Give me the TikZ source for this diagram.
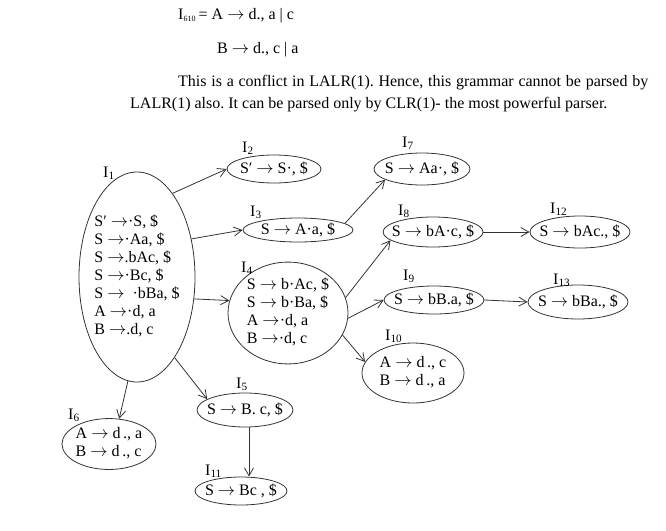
\documentclass[tikz,border=0pt]{standalone}
\usepackage{fontspec}
\setmainfont{Liberation Serif}
\usetikzlibrary{shapes.geometric,arrows.meta}
\frenchspacing
\newcommand\zw[1]{\makebox[0pt]{#1}}
\newcommand\lines[1]{\zw{\begin{tabular}{@{}l@{}}#1\end{tabular}}}
\newcommand\fs{\fontsize{16}{18}\selectfont}
\newcommand\II[1]{I\textsubscript{#1}}
\newcommand\ra{$\rightarrow$}
\begin{document}
\begin{tikzpicture}[x=1pt,y={(0pt,-1pt)},
  st/.style={draw=black!80, line width=0.8pt, ellipse, inner sep=0pt, font=\fs},
  lbl/.style={inner sep=0pt, anchor=base west, font=\fs},
  txt/.style={inner sep=0pt, anchor=base west, font=\fs},
  arr/.style={draw=black!80, line width=0.8pt, -{Straight Barb[length=8pt,width=9pt]}}]
\useasboundingbox (0,0) rectangle (666,530);
% header text
\node[txt] (h1) at (178,19) {I\textsubscript{\fontsize{8}{8}\selectfont 610}\,= A \ra{} d., a | c};
\node[txt] (h2) at (217,53) {B \ra{} d., c | a};
\node[txt] (p1) at (178,86) {\makebox[470pt][s]{This is a conflict in LALR(1). Hence, this grammar cannot be parsed by}};
\node[txt] (p2) at (130,108) {LALR(1) also. It can be parsed only by CLR(1)- the most powerful parser.};
% states
\node[st, minimum width=116, minimum height=210] (I1) at (137,277)
  {\lines{S′ \ra·S, \$\\ S \ra·Aa, \$\\ S \ra.bAc, \$\\ S \ra·Bc, \$\\ S \ra{} \ ·bBa, \$\\ A \ra·d, a\\ B \ra.d, c}};
\node[st, minimum width=94, minimum height=28] (I2) at (274,169) {\zw{S′ \ra{} S·, \$}};
\node[st, minimum width=110, minimum height=24] (I3) at (298,230) {\zw{S \ra{} A·a, \$}};
\node[st, minimum width=120, minimum height=100] (I4) at (288,313)
  {\lines{S \ra{} b·Ac, \$\\ S \ra{} b·Ba, \$\\ A \ra·d, a\\ B \ra·d, c}};
\node[st, minimum width=96, minimum height=34] (I5) at (245,410) {\zw{S \ra{} B. c, \$}};
\node[st, minimum width=94, minimum height=48] (I6) at (109,444)
  {\lines{A \ra{} d\,., a\\ B \ra{} d\,., c}};
\node[st, minimum width=96, minimum height=32] (I7) at (422,169) {\zw{S \ra{} Aa·, \$}};
\node[st, minimum width=100, minimum height=30] (I8) at (433,232) {\zw{S \ra{} bA·c, \$}};
\node[st, minimum width=100, minimum height=28] (I9) at (434,300) {\zw{S \ra{} bB.a, \$}};
\node[st, minimum width=102, minimum height=60] (I10) at (413,373)
  {\lines{A \ra{} d\,., c\\ B \ra{} d\,., a}};
\node[st, minimum width=92, minimum height=28] (I11) at (241,491) {\zw{S \ra{} Bc , \$}};
\node[st, minimum width=100, minimum height=32] (I12) at (580,232) {\zw{S \ra{} bAc., \$}};
\node[st, minimum width=100, minimum height=34] (I13) at (578,302) {\zw{S \ra{} bBa., \$}};
% labels
\node[lbl] (L1) at (103,177) {\II{1}};
\node[lbl] (L2) at (242,152) {\II{2}};
\node[lbl] (L3) at (250,216) {\II{3}};
\node[lbl] (L4) at (241,272) {\II{4}};
\node[lbl] (L5) at (236,388) {\II{5}};
\node[lbl] (L6) at (68,419) {\II{6}};
\node[lbl] (L7) at (402,147) {\II{7}};
\node[lbl] (L8) at (398,215) {\II{8}};
\node[lbl] (L9) at (403,280) {\II{9}};
\node[lbl] (L10) at (385,340) {\II{10}};
\node[lbl] (L11) at (205,475) {\II{11}};
\node[lbl] (L12) at (550,213) {\II{12}};
\node[lbl] (L13) at (553,284) {\II{13}};
% transitions
\draw[arr] (I1.67) -- (I2.west);
\draw[arr] (I1.35) -- (I3.west);
\draw[arr] (I1.-21) -- (I4.168);
\draw[arr] (I1.-95) -- (I6.68);
\draw[arr] (I1.-65) -- (I5.164);
\draw[arr] (I3.8) -- (I7.196);
\draw[arr] (I4.15) -- (I8.191);
\draw[arr] (I4.-5) -- (I9.west);
\draw[arr] (I4.-22) -- (I10.167);
\draw[arr] (I8.east) -- (I12.west);
\draw[arr] (I9.east) -- (I13.west);
\draw[arr] (I5.-77) -- (I5.-77 |- I11.north);
\end{tikzpicture}
\end{document}
